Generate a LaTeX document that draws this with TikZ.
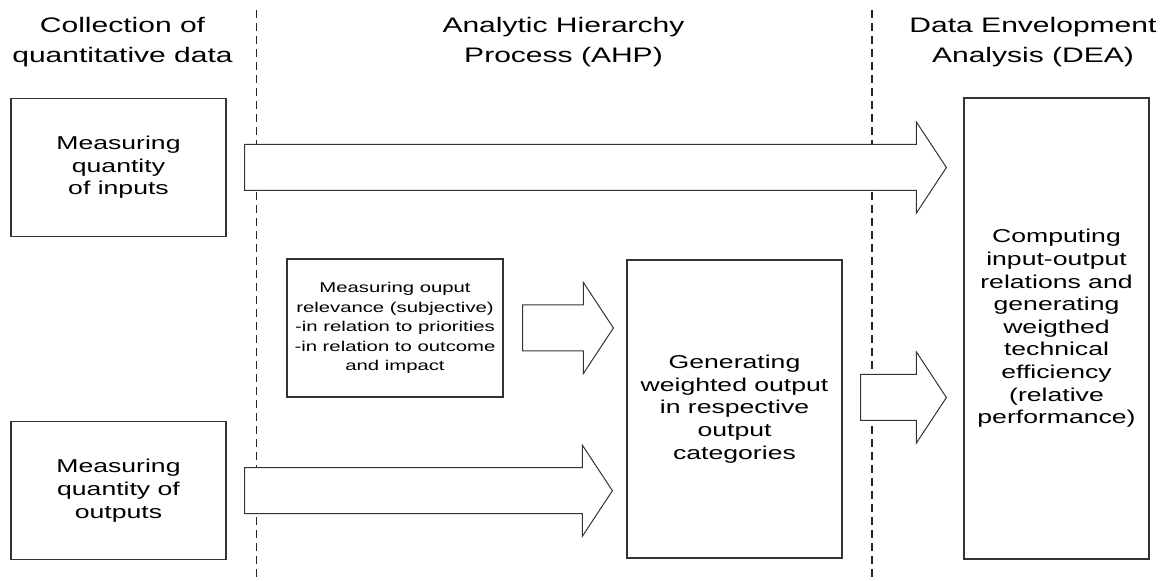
\documentclass[tikz,border=0pt]{standalone}
\usepackage{fontspec}
\setmainfont{Liberation Sans}[FakeStretch=1.43]
\usetikzlibrary{positioning,calc}
\tikzset{basic/.style={draw=black!80,line width=0.6pt,fill=white,align=center,inner sep=2pt}}
\tikzset{stage/.style={basic,minimum width=107.5pt,minimum height=69pt,font=\fontsize{9.3}{11.3}\selectfont}}
\tikzset{note/.style={basic,minimum width=108pt,minimum height=69pt,font=\fontsize{7.1}{9.7}\selectfont}}
\tikzset{phase/.style={align=center,font=\fontsize{10.5}{15}\selectfont}}
\tikzset{divider/.style={draw=black!85,line width=0.6pt,dash pattern=on 4pt off 2.5pt}}
\tikzset{barrow/.style={draw=black!80,line width=0.5pt,fill=white,line join=miter}}

\newcommand{\blockarrow}[2]{%
  \path[barrow] let \p1=(#1), \p2=(#2) in
    (\x1,\y1+11.5pt) -- (\x2-15pt,\y1+11.5pt) -- (\x2-15pt,\y1+22.75pt) -- (\x2,\y1)
    -- (\x2-15pt,\y1-22.75pt) -- (\x2-15pt,\y1-11.5pt) -- (\x1,\y1-11.5pt) -- cycle;}

\begin{document}
\begin{tikzpicture}
    \useasboundingbox (0,0) rectangle (583pt,-290.5pt);

    \node[phase] (h1) at (61.25pt,-21pt) {Collection of\\quantitative data};
    \node[phase] (h2) at (281.75pt,-21pt) {Analytic Hierarchy\\Process (AHP)};
    \node[phase] (h3) at (516.5pt,-21pt) {Data Envelopment\\Analysis (DEA)};

    \coordinate (d1) at (128.25pt,-5pt);
    \coordinate (d2) at (436pt,-5pt);
    \path[divider] (d1) -- ($(d1)+(0,-286pt)$);
    \path[divider] (d2) -- ($(d2)+(0,-286pt)$);

    \node[stage] (inp) at (59.25pt,-83.75pt) {Measuring\\quantity\\of inputs};
    \node[stage,below=92pt of inp] (outp) {Measuring\\quantity of\\outputs};
    \node[note] (rel) at (197.5pt,-164pt) {Measuring ouput\\relevance (subjective)\\-in relation to priorities\\-in relation to outcome\\and impact};
    \node[stage,minimum height=149pt] (gen) at (367.25pt,-204.5pt) {Generating\\weighted output\\in respective\\output\\categories};
    \node[stage,minimum width=92.5pt,minimum height=230.5pt] (dea) at (528.25pt,-164.25pt) {Computing\\input-output\\relations and\\generating\\weigthed\\technical\\efficiency\\(relative\\performance)};

    \coordinate (a1s) at ($(inp.east)+(9pt,0)$);
    \coordinate (a1e) at ($(dea.west |- inp.east)+(-8.5pt,0)$);
    \coordinate (a2s) at ($(rel.east)+(9.5pt,0)$);
    \coordinate (a2e) at ($(gen.west |- rel.east)+(-6.5pt,0)$);
    \coordinate (a3s) at ($(outp.east)+(9pt,0)$);
    \coordinate (a3e) at ($(gen.west |- outp.east)+(-7pt,0)$);
    \coordinate (a4s) at ($(gen.east)+(9pt,5.75pt)$);
    \coordinate (a4e) at ($(dea.west |- a4s)+(-8.5pt,0)$);

    \blockarrow{a1s}{a1e}
    \blockarrow{a2s}{a2e}
    \blockarrow{a3s}{a3e}
    \blockarrow{a4s}{a4e}
\end{tikzpicture}
\end{document}
